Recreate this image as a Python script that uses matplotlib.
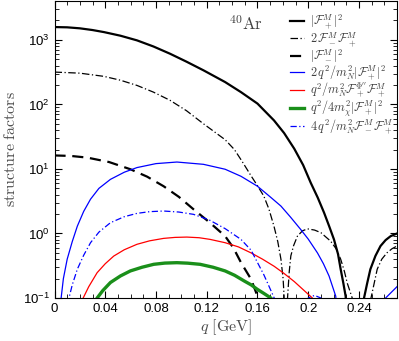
import numpy as np
import matplotlib
matplotlib.use('Agg')
import matplotlib.pyplot as plt
from matplotlib.ticker import MultipleLocator, LogLocator, NullFormatter

plt.rcParams['font.family'] = 'Liberation Sans'
plt.rcParams['mathtext.fontset'] = 'custom'
plt.rcParams['mathtext.rm'] = 'Liberation Sans'
plt.rcParams['mathtext.it'] = 'Liberation Sans:italic'

# ---- data (q in GeV) ----
q_pp = [0, 0.01, 0.02, 0.03, 0.039, 0.052, 0.065, 0.078, 0.091, 0.104, 0.1175, 0.1345,
        0.147, 0.160, 0.173, 0.181, 0.189, 0.196, 0.202, 0.2075, 0.2125, 0.2165, 0.2203,
        0.2235, 0.2256, 0.2277, 0.2295, 0.237, 0.244, 0.2465, 0.249, 0.253, 0.257, 0.261,
        0.265, 0.27]
F_pp = [1580, 1565, 1510, 1420, 1320, 1160, 983, 790, 611, 460, 337, 222,
        155, 103, 56.6, 36, 20.6, 11.5, 6.1, 3.6, 2.1, 1.3, 0.81,
        0.48, 0.279, 0.17, 0.107, 1e-4, 0.1, 0.17, 0.279, 0.45, 0.64, 0.79,
        0.91, 1.0]

q_mp = [0, 0.02, 0.039, 0.052, 0.065, 0.078, 0.091, 0.104, 0.1175, 0.1345, 0.1418, 0.148,
        0.155, 0.160, 0.165, 0.169, 0.173, 0.176, 0.1785, 0.1802, 0.181, 0.182, 0.1837,
        0.185, 0.1863, 0.1885, 0.1915, 0.1955, 0.1994, 0.205, 0.21, 0.2177, 0.222, 0.2256,
        0.2285, 0.2308, 0.2347, 0.244, 0.2495, 0.2544, 0.258, 0.262, 0.266, 0.27]
F_mp = [317, 305, 272, 237, 197, 155, 116, 80, 50, 28.4, 20, 13,
        7.8, 5.5, 3.8, 2.4, 1.3, 0.75, 0.40, 0.2, 0.107, 1e-4, 0.1,
        0.25, 0.45, 0.65, 0.91, 1.1, 1.18, 1.13, 1.03, 0.76, 0.58, 0.40,
        0.26, 0.17, 0.1, 1e-4, 0.1, 0.28, 0.4, 0.50, 0.58, 0.64]

q_mm = [0, 0.013, 0.0258, 0.043, 0.0598, 0.073, 0.086, 0.098, 0.1096, 0.122, 0.1345,
        0.141, 0.147, 0.155, 0.160, 0.163]
F_mm = [16.2, 15.9, 15, 12.8, 9.9, 7.6, 5.4, 3.7, 2.37, 1.5, 0.91,
        0.6, 0.355, 0.195, 0.107, 0.05]

q_b = [0.004, 0.0054, 0.007, 0.010, 0.014, 0.018, 0.023, 0.0284, 0.035, 0.0441, 0.055,
       0.065, 0.08, 0.0965, 0.1174, 0.1345, 0.147, 0.160, 0.17, 0.1785, 0.186, 0.194,
       0.2, 0.2073, 0.212, 0.2164, 0.2217, 0.225, 0.255, 0.261, 0.27]
F_b = [0.06, 0.107, 0.2, 0.4, 0.75, 1.3, 2.2, 3.4, 5.0, 6.9, 8.9,
       10.5, 12.1, 12.8, 11.8, 9.9, 7.7, 5.4, 3.7, 2.66, 1.8, 1.16,
       0.82, 0.50, 0.34, 0.22, 0.107, 0.01, 0.01, 0.1, 0.15]

q_bd = [0.0105, 0.0114, 0.014, 0.018, 0.023, 0.0284, 0.035, 0.0441, 0.055, 0.065, 0.075,
        0.086, 0.098, 0.1096, 0.122, 0.1345, 0.147, 0.155, 0.160, 0.165, 0.168, 0.1732,
        0.176, 0.194, 0.2, 0.205, 0.21, 0.216]
F_bd = [0.08, 0.1, 0.16, 0.28, 0.46, 0.72, 1.05, 1.47, 1.82, 2.05, 2.18,
        2.23, 2.15, 1.98, 1.62, 1.19, 0.81, 0.55, 0.355, 0.23, 0.17, 0.1,
        0.02, 0.05, 0.1, 0.11, 0.1, 0.05]

q_r = [0.021, 0.0226, 0.027, 0.0336, 0.04, 0.0467, 0.055, 0.065, 0.075, 0.086, 0.095,
       0.1043, 0.114, 0.1227, 0.1345, 0.145, 0.155, 0.164, 0.1732, 0.181, 0.189, 0.196,
       0.2033, 0.206]
F_r = [0.08, 0.1, 0.15, 0.247, 0.34, 0.447, 0.56, 0.68, 0.77, 0.84, 0.87,
       0.88, 0.86, 0.81, 0.72, 0.62, 0.50, 0.40, 0.31, 0.24, 0.18, 0.135,
       0.1, 0.08]

q_g = [0.03, 0.0336, 0.038, 0.0441, 0.052, 0.0598, 0.069, 0.0782, 0.087, 0.0965, 0.105,
       0.1148, 0.125, 0.1345, 0.142, 0.1497, 0.155, 0.160, 0.165, 0.1706, 0.174]
F_g = [0.07, 0.1, 0.13, 0.174, 0.22, 0.263, 0.30, 0.333, 0.348, 0.353, 0.347,
       0.333, 0.30, 0.263, 0.225, 0.183, 0.16, 0.136, 0.118, 0.1, 0.08]

labels = [r'$|\mathcal{F}_+^M|^2$',
          r'$2\,\mathcal{F}_-^M\mathcal{F}_+^M$',
          r'$|\mathcal{F}_-^M|^2$',
          r'$2\,q^2/m_N^2|\mathcal{F}_+^M|^2$',
          r"$q^2/m_N^2\mathcal{F}_+^{\Phi''}\mathcal{F}_+^M$",
          r'$q^2/4m_\chi^2|\mathcal{F}_+^M|^2$',
          r'$4\,q^2/m_N^2\mathcal{F}_-^M\mathcal{F}_+^M$']

fig = plt.figure(figsize=(3.99, 3.41), dpi=100)
ax = fig.add_axes([0.1366, 0.126, 0.8584, 0.871])

ax.plot(q_pp, F_pp, color='k', lw=1.6, label=labels[0])
ax.plot(q_mp, F_mp, color='k', lw=0.9, dashes=(6, 2, 1, 2), label=labels[1])
ax.plot(q_mm, F_mm, color='k', lw=1.6, dashes=(5, 3), label=labels[2])
ax.plot(q_b, F_b, color='#0000ff', lw=0.9, label=labels[3])
ax.plot(q_r, F_r, color='#ff0000', lw=0.9, label=labels[4])
ax.plot(q_g, F_g, color='#1a8f1a', lw=2.4, label=labels[5])
ax.plot(q_bd, F_bd, color='#0000ff', lw=0.9, dashes=(5, 2, 1, 2), label=labels[6])

ax.set_yscale('log')
ax.set_xlim(0, 0.27)
ax.set_ylim(0.1, 4000)
ax.xaxis.set_major_locator(MultipleLocator(0.04))
ax.xaxis.set_minor_locator(MultipleLocator(0.01))
ax.xaxis.set_major_formatter(plt.FuncFormatter(lambda v, p: '0' if v == 0 else ('%g' % round(v, 2))))
ax.yaxis.set_major_locator(LogLocator(base=10, numticks=10))
ax.yaxis.set_minor_locator(LogLocator(base=10, subs=np.arange(2, 10), numticks=20))
ax.yaxis.set_minor_formatter(NullFormatter())
ax.tick_params(which='both', direction='in', top=True, right=True, labelsize=9.5)
ax.tick_params(which='major', length=5, width=0.8)
ax.tick_params(which='minor', length=3, width=0.6)

xl = ax.set_xlabel(r'$q\ [\mathrm{GeV}]$', fontsize=11.5, color='0.3', labelpad=2)
xl.set_math_fontfamily('cm')
yl = ax.set_ylabel(r'$\mathrm{structure\ factors}$', fontsize=11.5, color='0.3', labelpad=3)
yl.set_math_fontfamily('cm')

t = ax.text(0.56, 0.925, r'$^{40}\mathrm{Ar}$', transform=ax.transAxes, fontsize=12,
            color='0.25', ha='center', va='center')
t.set_math_fontfamily('cm')

leg = ax.legend(loc='upper right', bbox_to_anchor=(1.015, 0.99), frameon=False, fontsize=8.8,
                handlelength=1.15, handletextpad=0.5, labelspacing=-0.12, borderaxespad=0.3)
for txt in leg.get_texts():
    txt.set_math_fontfamily('cm')
    txt.set_color('0.25')

fig.savefig('out.png', dpi=100)
